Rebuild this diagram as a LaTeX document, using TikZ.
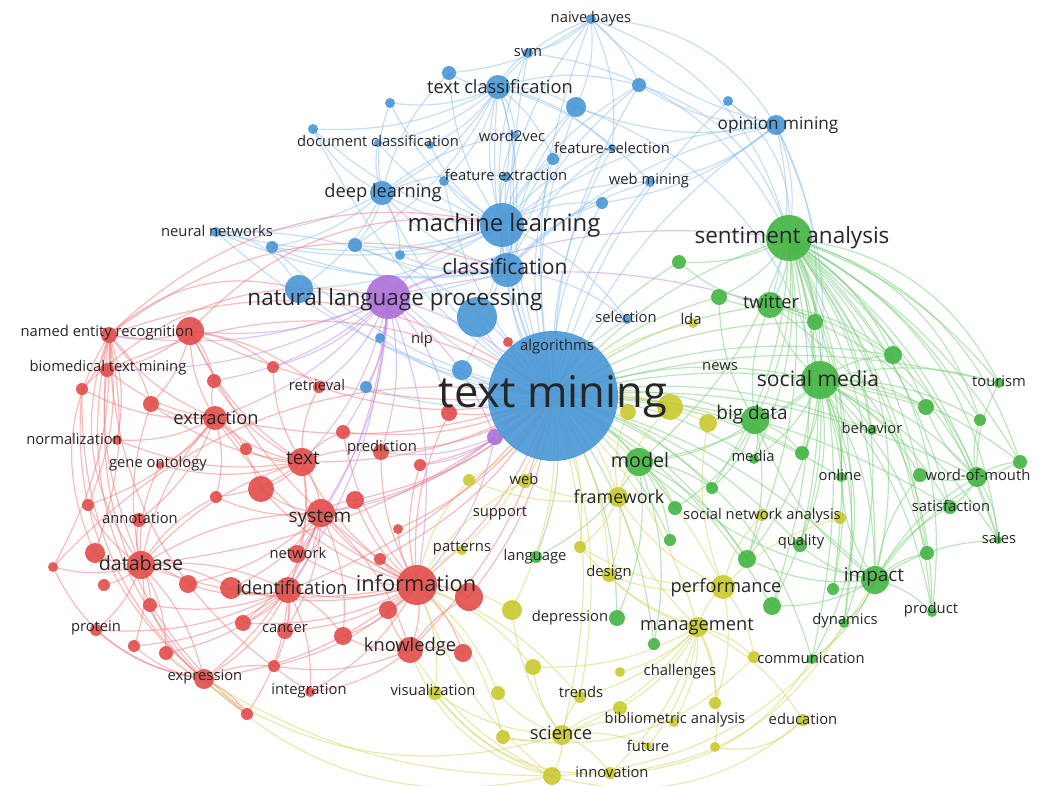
\documentclass[tikz,border=0pt]{standalone}
\usepackage{fontspec}
\setmainfont{Open Sans}
\usetikzlibrary{calc}

\definecolor{kwblue}{RGB}{76,152,214}
\definecolor{kwred}{RGB}{226,80,78}
\definecolor{kwgreen}{RGB}{70,182,70}
\definecolor{kwyellow}{RGB}{202,202,50}
\definecolor{kwpurple}{RGB}{174,114,216}
\definecolor{lnblue}{RGB}{140,190,238}
\definecolor{lnred}{RGB}{242,118,118}
\definecolor{lngreen}{RGB}{118,204,118}
\definecolor{lnyellow}{RGB}{212,212,96}
\definecolor{lnpurple}{RGB}{190,140,228}
\definecolor{lbl}{RGB}{38,38,38}

\pgfdeclarelayer{bg}
\pgfsetlayers{bg,main}

\tikzset{
  kw/.style={circle, inner sep=0pt, outer sep=0pt, fill=#1, fill opacity=0.92},
  lab/.style={inner sep=0pt, text=lbl, anchor=center},
  link/.style={draw=#1, line width=0.85pt, draw opacity=0.5},
}

\begin{document}
\begin{tikzpicture}[x=0.025cm, y=-0.025cm]
\useasboundingbox (0,0) rectangle (1040,785);

\foreach \n/\x/\y/\r in {nlpp/388/297/22, p1/495/437/8}
  \node[kw=kwpurple, minimum size=\r*0.05cm] (\n) at (\x,\y) {};

\foreach \n/\x/\y/\r in {tm/553/396/65, ml/502/225/22, cls/507/270/17, nlpb/299/289/14,
  bl1/477/317/20, tc/498/87/12, dl/382/193/12, om/776/125/10, nb/591/19/5, svm/528/53/5,
  b1/449/73/7, b2/390/103/5, b3/576/107/10, b4/639/85/7, w2v/515/135/4, docc/313/129/5,
  b5/378/143/4, b6/430/145/4, fs/612/148/4, b7/553/159/6, fe/506/177/5, b8/444/181/5,
  wm/650/182/5, b9/602/203/6, b10/355/245/7, b11/400/255/5, nn/216/232/5, b12/272/247/6,
  b13/728/101/5, sel/627/319/5, nlp/380/338/5, b14/462/370/10, b15/366/387/6}
  \node[kw=kwblue, minimum size=\r*0.05cm] (\n) at (\x,\y) {};

\foreach \n/\x/\y/\r in {ner/109/335/8, r1/190/331/14, bio/107/370/7, r2/273/367/6,
  r3/82/389/6, r4/214/381/7, ret/319/387/6, r5/151/404/8, ext/215/418/12, norm/117/440/5,
  r6/343/432/7, r7/246/449/6, go/160/465/4, txt/302/462/14, r8/261/489/13, r9/216/497/6,
  r10/88/505/6, ann/139/520/7, sys/321/513/14, r11/355/500/9, pred/381/452/8, r12/420/465/6,
  r13/449/413/8, r14/508/342/5, r15/95/553/10, db/141/565/14, r16/53/567/5, r17/104/585/6,
  r18/188/584/9, r19/231/588/11, idf/288/590/13, net/297/554/9, r20/150/605/7, prot/96/630/6,
  r21/243/623/8, canc/285/631/8, r22/343/636/9, r23/134/646/6, r24/166/653/7, r25/274/666/6,
  expr/204/679/10, integ/310/692/5, r26/247/714/6, r27/398/529/5, r28/380/559/6,
  info/417/585/20, r29/469/597/14, r30/388/610/9, kn/410/650/13, r31/463/653/9}
  \node[kw=kwred, minimum size=\r*0.05cm] (\n) at (\x,\y) {};

\foreach \n/\x/\y/\r in {y1/670/407/13, y2/628/412/8, web/525/481/7, y3/469/480/6,
  fw/618/497/10, lda/693/323/5, y4/708/423/9, sna1/762/515/6, sna2/840/518/6, pat/462/550/5,
  y5/580/547/6, des/609/575/7, y6/512/610/10, mgmt/698/627/10, y7/533/667/8, y8/620/672/5,
  vis/435/693/7, y9/498/693/7, trd/580/697/6, y10/620/708/7, y11/715/703/6, bib/674/722/5,
  sci/562/735/10, y12/503/737/7, fut/648/746/4, inn/610/773/6, y13/552/776/9,
  perf/723/587/12, comm2/754/657/6, edu/803/720/6, y14/715/747/5}
  \node[kw=kwyellow, minimum size=\r*0.05cm] (\n) at (\x,\y) {};

\foreach \n/\x/\y/\r in {sa/789/238/23, tw/770/305/13, sm/820/380/19, bd/755/420/14,
  model/639/462/14, imp/875/580/14, g1/679/262/7, g2/719/297/8, g3/815/322/8, g4/893/355/9,
  tour/999/383/5, g5/926/407/8, g6/980/420/6, beh/872/430/5, media/754/459/5, g7/802/453/7,
  onl/841/477/5, wom/977/477/10, g8/920/475/7, g9/1020/462/7, g10/712/488/6, sat/950/507/7,
  g11/675/508/7, lang/536/557/6, g12/670/540/6, dep/617/618/8, g13/654/644/6, qual/800/545/7,
  sales/998/540/4, g14/747/559/9, g15/927/553/7, g16/833/589/6, g17/772/606/9, prod/932/612/5,
  dyn/844/623/5, comm/812/659/5}
  \node[kw=kwgreen, minimum size=\r*0.05cm] (\n) at (\x,\y) {};

\begin{pgfonlayer}{bg}
\foreach \b in {ml, cls, bl1, nlpb, tc, dl, om, b3, b9, wm, sel, nlp, b14, b15, fe, w2v, b7,
  b10, b12, nn, svm, nb, b4, b13, fs, b8, docc}
  \draw[link=lnblue] (tm.center) to[bend left=15] (\b.center);
\foreach \b in {tc, dl, b1, b2, b3, b4, svm, nb, w2v, fs, fe, b8, wm, b9, b10, b11, nn, b12,
  docc, b5, b6, b7, om, nlpb, cls, bl1, sel, b14}
  \draw[link=lnblue] (ml.center) to[bend left=15] (\b.center);
\foreach \b in {svm, nb, b1, b2, b3, docc, b5, b6, w2v, fs, b7, dl, cls, fe, b8, b10, b4, wm}
  \draw[link=lnblue] (tc.center) to[bend left=15] (\b.center);
\foreach \b in {dl, b3, b4, b7, b9, wm, fs, om, nlpb, b11, nn, b12, b10, sel}
  \draw[link=lnblue] (cls.center) to[bend left=15] (\b.center);
\foreach \b in {b13, b4, nb, b3, b9, wm, sa, tw, sm, g3}
  \draw[link=lnblue] (om.center) to[bend left=15] (\b.center);
\foreach \b in {b2, docc, b5, nn, b12, b10, b11, nlpb, w2v, b1, fe}
  \draw[link=lnblue] (dl.center) to[bend left=15] (\b.center);
\foreach \b in {b4, svm, b3, fs, b1}
  \draw[link=lnblue] (nb.center) to[bend left=15] (\b.center);
\foreach \a/\b in {sa/nb, sa/svm, sa/b4, om/nb, sa/b13, nlpb/nn, tm/nn, sm/b3}
  \draw[link=lnblue] (\a.center) to[bend right=28] (\b.center);

\foreach \b in {info, txt, sys, ext, r13, r14, pred, r12, r11, r1, ret, r29, kn, idf, db, r6,
  r28, r27}
  \draw[link=lnred] (tm.center) to[bend left=15] (\b.center);
\foreach \b in {r29, r30, kn, r31, r28, r27, r22, idf, sys, txt, net, r11, pred, r12, canc,
  r21, r19, db, ext, r8, integ, r25, expr, r13, r6, r1}
  \draw[link=lnred] (info.center) to[bend left=15] (\b.center);
\foreach \b in {r15, r16, r17, r18, r19, r20, prot, r23, r24, expr, ann, r10, idf, sys, txt,
  ext, r9, go, r5, ner}
  \draw[link=lnred] (db.center) to[bend left=15] (\b.center);
\foreach \b in {ext, r7, r8, r6, pred, sys, ret, r2, r4, r5, idf, net, r9, go, norm, r1}
  \draw[link=lnred] (txt.center) to[bend left=15] (\b.center);
\foreach \b in {r1, ner, bio, r3, r4, r5, norm, go, r7, r8, r9, ann, r10}
  \draw[link=lnred] (ext.center) to[bend left=15] (\b.center);
\foreach \b in {ner, bio, r4, r2, r5, ret}
  \draw[link=lnred] (r1.center) to[bend left=15] (\b.center);
\foreach \b in {r8, net, idf, r11, r19, r18, canc, r21, r22, kn, expr, r9}
  \draw[link=lnred] (sys.center) to[bend left=15] (\b.center);
\foreach \b in {r19, r18, canc, r21, r22, r25, expr, integ, r26, r24, prot, r20, r23}
  \draw[link=lnred] (idf.center) to[bend left=15] (\b.center);
\foreach \b in {bio, r3, r5, r10, r15, r16, norm}
  \draw[link=lnred] (ner.center) to[bend left=15] (\b.center);
\foreach \b in {r31, r22, r30, integ, r25, r29}
  \draw[link=lnred] (kn.center) to[bend left=15] (\b.center);
\foreach \b in {r24, r23, r26, r20, prot, r25}
  \draw[link=lnred] (expr.center) to[bend left=15] (\b.center);
\foreach \a/\b in {ml/ner, nlpb/ner, ml/r1, tm/bio, tm/ner, nlpp/r3, tm/r16, cls/ner,
  ner/expr, ner/db, bio/r26, r3/expr, ner/r15, r16/expr, ner/integ, r3/r26}
  \draw[link=lnred] (\a.center) to[bend right=28] (\b.center);

\foreach \b in {tm, ml, cls, r1, ner, bio, txt, ext, info, sys, ret, r6, pred, b15, nlp, p1,
  r13, tw, sa, r2, r4, idf, net}
  \draw[link=lnpurple] (nlpp.center) to[bend left=15] (\b.center);
\foreach \b in {tm, info, sys, pred, r12}
  \draw[link=lnpurple] (p1.center) to[bend left=15] (\b.center);

\foreach \b in {sa, tw, sm, bd, model, imp, g1, g2, g3, g4, g5, g7, g10, g11, lang, dep, qual,
  g14, g17, wom, sat, onl, media, beh, g13, g12, tour}
  \draw[link=lngreen] (tm.center) to[bend left=15] (\b.center);
\foreach \b in {tw, sm, bd, g1, g2, g3, g4, g5, g6, tour, beh, g7, onl, wom, g8, g9, sat, imp,
  g15, prod, qual, g14, g17, model, g10, media, g16, dyn, comm, sales}
  \draw[link=lngreen] (sa.center) to[bend left=15] (\b.center);
\foreach \b in {tw, bd, g3, g4, g5, g6, tour, beh, g7, onl, wom, g8, g9, sat, imp, g15, g16,
  qual, sales, prod, media, model, g14, g17, dyn}
  \draw[link=lngreen] (sm.center) to[bend left=15] (\b.center);
\foreach \b in {g14, g15, g16, g17, prod, dyn, comm, qual, sat, wom, sales, model, bd, g9, g8,
  onl}
  \draw[link=lngreen] (imp.center) to[bend left=15] (\b.center);
\foreach \b in {tw, model, g10, g11, media, g7, g14, g2}
  \draw[link=lngreen] (bd.center) to[bend left=15] (\b.center);
\foreach \b in {g11, g10, g12, lang, dep, g13, g14}
  \draw[link=lngreen] (model.center) to[bend left=15] (\b.center);
\foreach \b in {g1, g2, g3, g4}
  \draw[link=lngreen] (tw.center) to[bend left=15] (\b.center);
\foreach \b in {tour, g9, sat, g6, sales, g8, g5}
  \draw[link=lngreen] (wom.center) to[bend left=15] (\b.center);
\foreach \a/\b in {sales/sa, prod/sa, tour/sa, g9/sa, imp/sa, dyn/sa, comm/sm, sales/tw,
  wom/tw, g6/sa, prod/tw, comm/tm}
  \draw[link=lngreen] (\a.center) to[bend right=28] (\b.center);

\foreach \b in {y1, y2, web, y3, fw, lda, y4, des, y6, mgmt, perf, sci, trd, pat, y5}
  \draw[link=lnyellow] (tm.center) to[bend left=15] (\b.center);
\foreach \b in {perf, y8, y10, y11, bib, fut, sci, trd, y7, des, edu, comm2, y14, inn, y5, fw}
  \draw[link=lnyellow] (mgmt.center) to[bend left=15] (\b.center);
\foreach \b in {y12, y13, inn, y9, vis, trd, y10, fut, bib, y7, y6}
  \draw[link=lnyellow] (sci.center) to[bend left=15] (\b.center);
\foreach \b in {des, y5, fw, sna1, sna2, comm2, y11, y4}
  \draw[link=lnyellow] (perf.center) to[bend left=15] (\b.center);
\foreach \b in {kn, expr, info, vis}
  \draw[link=lnyellow] (y13.center) to[bend left=15] (\b.center);
\foreach \b in {y6, y9, vis, pat, y7, y12, trd, y3, web}
  \draw[link=lnyellow] (info.center) to[bend left=15] (\b.center);
\foreach \b in {y1, y2, web, y3, y5, des}
  \draw[link=lnyellow] (fw.center) to[bend left=15] (\b.center);
\foreach \a/\b in {expr/y13, kn/y13, y13/edu, inn/comm, y13/imp, inn/dyn, r24/sci, y14/edu,
  y12/comm2, vis/inn}
  \draw[link=lnyellow] (\a.center) to[bend right=28] (\b.center);
\end{pgfonlayer}

\node[lab, font=\fontsize{31}{31}\selectfont] (ltm) at (553,397) {text mining};
\foreach \n/\x/\y/\s/\t in {ml/504/225/17/machine learning,
  nlpp/395/300/16/natural language processing, sa/792/238/16/sentiment analysis,
  sm/818/379/15/social media, info/416/583/15.5/information, cls/505/267/15/classification,
  tc/500/87/13/text classification, dl/383/193/13/deep learning, tw/771/302/13/twitter,
  bd/752/415/13.5/big data, model/640/460/14/model, txt/303/458/13.5/text,
  ext/216/418/13/extraction, sys/320/519/13.5/system, db/141/563/14/database,
  idf/292/588/13/identification, kn/410/647/13/knowledge, imp/874/577/13.5/impact,
  perf/726/588/13/performance, mgmt/697/627/13/management, sci/561/733/13/science,
  fw/619/497/12.7/framework, om/778/125/12.2/opinion mining}
  \node[lab, font=\fontsize{\s}{\s}\selectfont] (l\n) at (\x,\y) {\t};

\foreach \n/\x/\y/\t in {nb/591/19/naive bayes, svm/528/53/svm,
  docc/378/141/document classification, w2v/512/136/word2vec, fs/612/148/feature-selection,
  fe/506/175/feature extraction, wm/649/181/web mining, nn/217/231/neural networks,
  ner/107/333/named entity recognition, bio/108/368/biomedical text mining,
  ret/317/385/retrieval, norm/74/439/normalization, go/158/464/gene ontology,
  ann/140/518/annotation, pred/382/448/prediction, sel/626/317/selection, lda/691/319/lda,
  nlp/422/340/nlp, alg/557/347/algorithms, news/720/367/news, tour/999/381/tourism,
  beh/872/428/behavior, media/753/456/media, onl/840/475/online, wom/978/475/word-of-mouth,
  sat/951/506/satisfaction, sna/762/516/social network analysis, web/524/479/web,
  sup/500/513/support, net/298/553/network, pat/462/548/patterns, lang/535/557/language,
  des/609/573/design, qual/801/542/quality, sales/999/538/sales, prot/96/628/protein,
  canc/285/629/cancer, dep/570/618/depression, prod/931/610/product, dyn/845/621/dynamics,
  chal/680/672/challenges, comm/811/658/communication, expr/205/677/expression,
  integ/309/691/integration, vis/433/690/visualization, trd/581/692/trends,
  bib/675/720/bibliometric analysis, edu/803/719/education, fut/648/746/future,
  inn/612/772/innovation}
  \node[lab, font=\fontsize{10.5}{12}\selectfont] (l\n) at (\x,\y) {\t};
\end{tikzpicture}
\end{document}
